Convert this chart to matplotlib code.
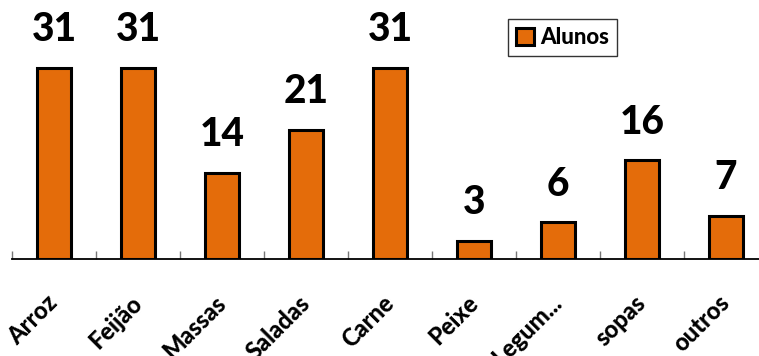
import numpy as np
import matplotlib.pyplot as plt
from matplotlib.ticker import FixedLocator

categorias = ['Arroz', 'Feijão', 'Massas', 'Saladas', 'Carne', 'Peixe', 'Legum...', 'sopas', 'outros']
alunos = [31, 31, 14, 21, 31, 3, 6, 16, 7]

plt.rcParams['font.family'] = ['Lato', 'DejaVu Sans']
plt.rcParams['font.weight'] = 'black'

fig = plt.figure(figsize=(7.59, 3.56), dpi=100)
ax = fig.add_axes([12/759, 1 - 259/356, 747/759, 259/356])

x = np.arange(len(categorias))
bars = ax.bar(x, alunos, width=0.41, color='#E46C0A', edgecolor='black', linewidth=2.2, label='Alunos')

for xi, v in zip(x, alunos):
    ax.annotate(str(v), (xi, v), xytext=(0, 14), textcoords='offset points',
                ha='center', va='bottom', fontsize=28, fontweight='black')

ax.set_xlim(-0.5, -0.5 + 747/84)
ax.set_ylim(0, 42)

for s in ['left', 'right', 'top']:
    ax.spines[s].set_visible(False)
ax.spines['bottom'].set_linewidth(1.3)
ax.set_yticks([])

ax.set_xticks(x)
ax.set_xticklabels(categorias, rotation=45, ha='right', va='center', rotation_mode='anchor',
                   fontsize=17, fontweight='black')
ax.tick_params(axis='x', which='major', length=0, pad=29)
ax.xaxis.set_minor_locator(FixedLocator(np.arange(len(categorias) + 1) - 0.5))
ax.tick_params(axis='x', which='minor', direction='in', length=6, width=1, color='#777777')

leg = ax.legend(loc='upper left', bbox_to_anchor=(485/747, 1 - 8/259), frameon=True,
                fancybox=False, edgecolor='black', fontsize=16, handlelength=0.8,
                handleheight=0.8, handletextpad=0.3, borderpad=0.35)
leg.get_frame().set_linewidth(1)
for t in leg.get_texts():
    t.set_fontweight('black')

fig.savefig('out.png', dpi=100)
